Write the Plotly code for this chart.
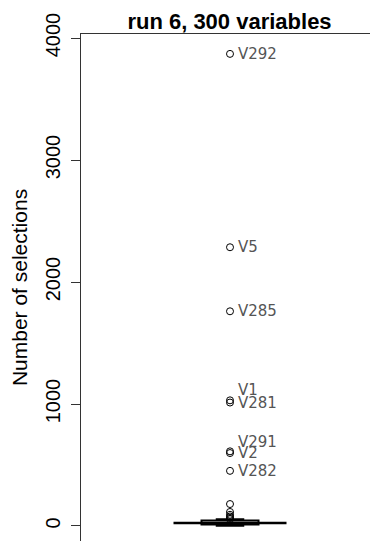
import plotly.graph_objects as go

# Data
outlier_labels = ["V292", "V5", "V285", "V1", "V281", "V291", "V2", "V282"]
outlier_values = [3870, 2285, 1760, 1030, 1012, 612, 598, 452]
small_outliers = [180, 115, 92, 78, 66, 56]
box_stats = {"lowerfence": 2, "q1": 12, "median": 25, "q3": 46, "upperfence": 55}
label_shift = [0, 0, 0, 10, 0, 9, 0, 0]

title_text = "run 6, 300 variables"
y_title = "Number of selections"
y_ticks = [0, 1000, 2000, 3000, 4000]

# the page body has an 8px margin; the figure is sized to fill the rest of the window
W, H, OFF = 378, 544, 8

fig = go.Figure()

fig.add_trace(go.Box(
    x=[1], q1=[box_stats["q1"]], median=[box_stats["median"]], q3=[box_stats["q3"]],
    lowerfence=[box_stats["lowerfence"]], upperfence=[box_stats["upperfence"]],
    width=0.57, fillcolor="white", line=dict(color="black", width=2),
    whiskerwidth=0.5, boxpoints=False, showlegend=False, hoverinfo="skip",
))

# wide median line
fig.add_trace(go.Scatter(
    x=[1 - 0.565, 1 + 0.565], y=[box_stats["median"]] * 2, mode="lines",
    line=dict(color="black", width=2.5), showlegend=False, hoverinfo="skip",
))

fig.add_trace(go.Scatter(
    x=[1] * len(small_outliers), y=small_outliers, mode="markers",
    marker=dict(symbol="circle-open", size=7, color="black", line=dict(width=1)),
    showlegend=False,
))

fig.add_trace(go.Scatter(
    x=[1] * len(outlier_values), y=outlier_values, mode="markers",
    marker=dict(symbol="circle-open", size=7, color="black", line=dict(width=1)),
    showlegend=False,
))

for lab, val, sh in zip(outlier_labels, outlier_values, label_shift):
    fig.add_annotation(x=1, y=val, text=lab, showarrow=False, xanchor="left",
                       yanchor="middle", xshift=6, yshift=sh,
                       font=dict(family="DejaVu Sans", size=15, color="#555555"))

fig.update_layout(
    width=W - OFF, height=H - OFF,
    margin=dict(l=81 - OFF, r=0, t=34 - OFF, b=3),
    paper_bgcolor="white", plot_bgcolor="white",
    font=dict(family="Liberation Sans, Arial, sans-serif", color="black"),
    title=dict(text="<b>" + title_text + "</b>", x=0.5, xref="paper", xanchor="center",
               y=1 - (21 - OFF) / (H - OFF), yref="container", yanchor="middle",
               font=dict(size=22, color="black")),
    xaxis=dict(range=[-0.49, 2.48], showgrid=False, zeroline=False, showticklabels=False,
               ticks="", side="top", showline=True, linecolor="#333333", linewidth=1,
               automargin=False),
    yaxis=dict(range=[-123, 4033], tickvals=y_ticks, ticks="outside", ticklen=9,
               tickcolor="#333333", showgrid=False, zeroline=False, showline=True,
               linecolor="#333333", linewidth=1, tickangle=-90, automargin=False,
               ticklabelstandoff=3,
               tickfont=dict(size=20, color="black"),
               title=dict(text=y_title, font=dict(size=21, color="black"), standoff=11)),
)

fig.write_html("out.html")
